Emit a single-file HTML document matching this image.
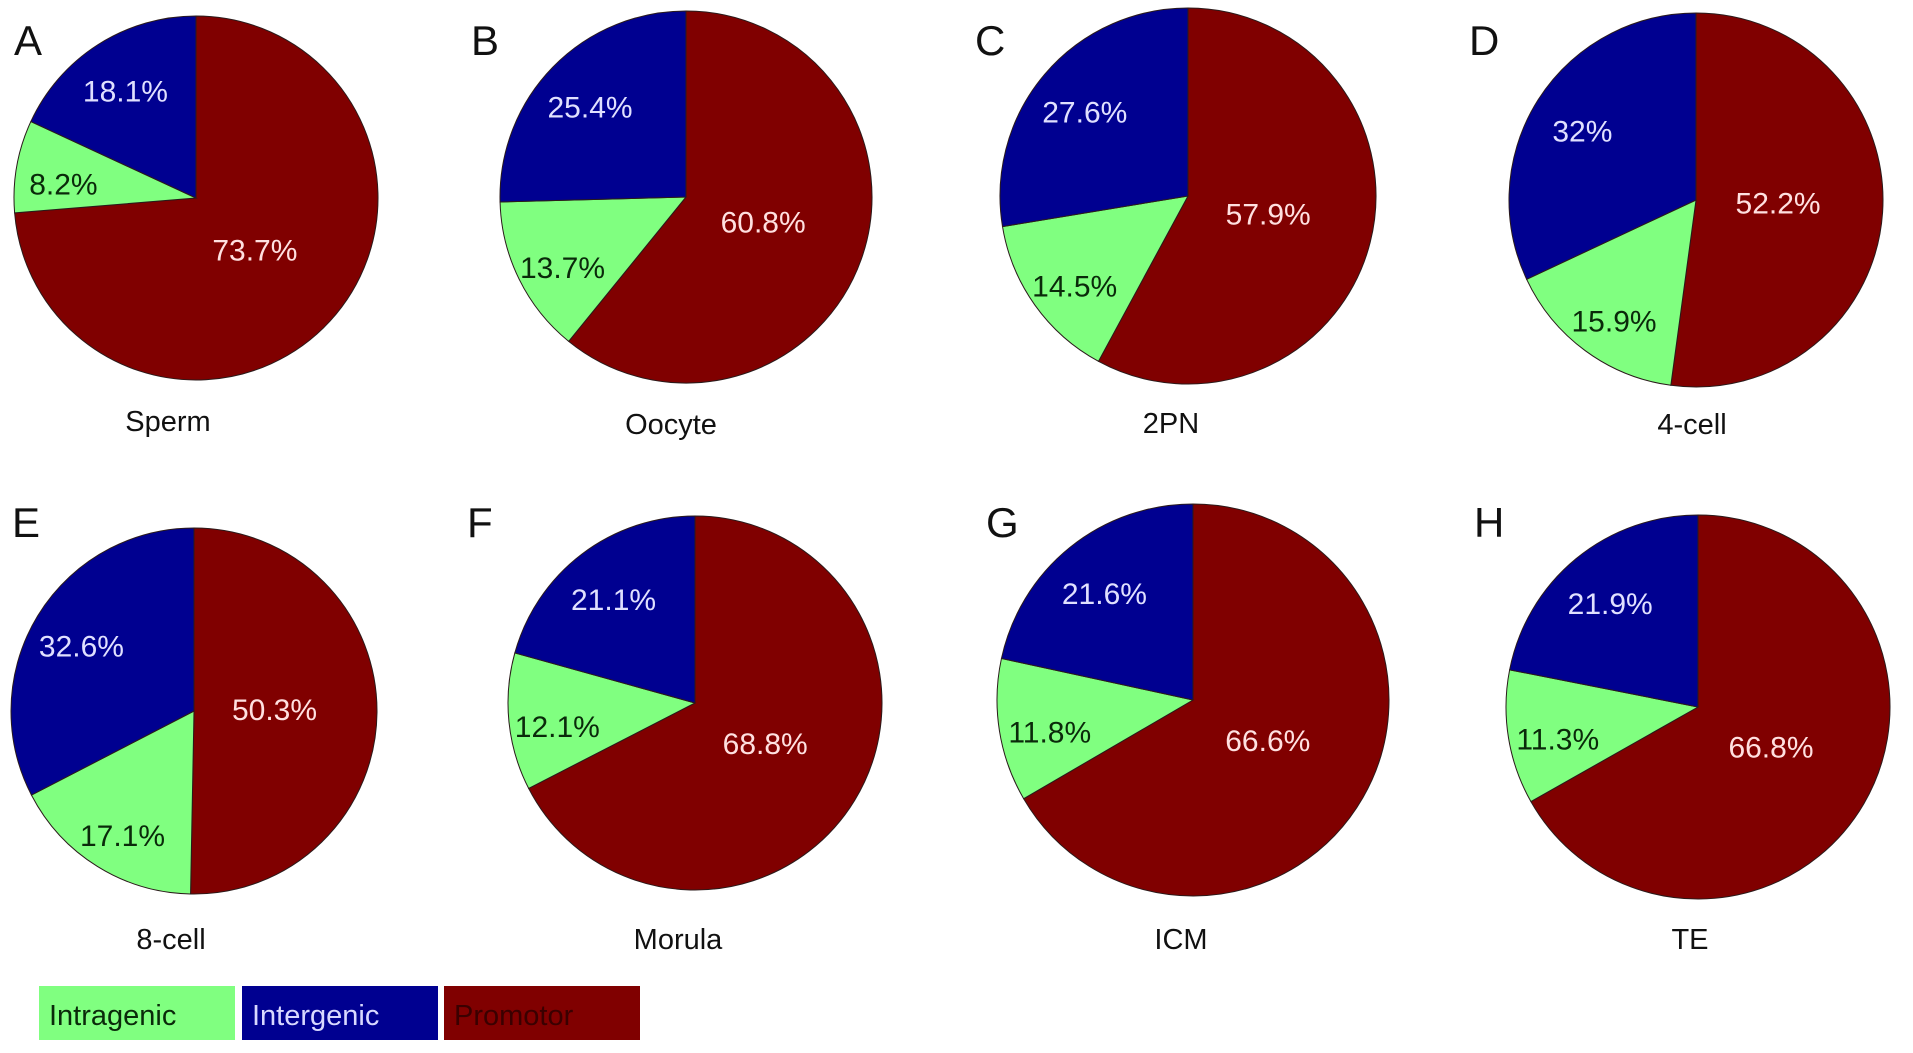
<!DOCTYPE html>
<html><head><meta charset="utf-8"><style>
html,body{margin:0;padding:0;background:#fff;width:1913px;height:1053px;overflow:hidden}
svg{display:block}
text{font-family:"Liberation Sans",Arial,sans-serif}
</style></head><body>
<svg id="chart" width="1913" height="1053" viewBox="0 0 1913 1053"></svg>
<script>
const panelLetters = ["A","B","C","D","E","F","G","H"];
const stageNames = ["Sperm","Oocyte","2PN","4-cell","8-cell","Morula","ICM","TE"];
const promotorValues = [73.7,60.8,57.9,52.2,50.3,68.8,66.6,66.8];
const intragenicValues = [8.2,13.7,14.5,15.9,17.1,12.1,11.8,11.3];
const intergenicValues = [18.1,25.4,27.6,32,32.6,21.1,21.6,21.9];
const categoryNames = ["Promotor","Intragenic","Intergenic"];

const NS = "http://www.w3.org/2000/svg";
const svg = document.getElementById("chart");
const layout = [
  {cx:196,cy:198,r:182,lx:14,ly:55,tx:168,ty:431},
  {cx:686,cy:197,r:186,lx:471,ly:55,tx:671,ty:434},
  {cx:1188,cy:196,r:188,lx:975,ly:55,tx:1171,ty:433},
  {cx:1696,cy:200,r:187,lx:1469,ly:55,tx:1692,ty:434},
  {cx:194,cy:711,r:183,lx:12,ly:537,tx:171,ty:949},
  {cx:695,cy:703,r:187,lx:467,ly:537,tx:678,ty:949},
  {cx:1193,cy:700,r:196,lx:986,ly:537,tx:1181,ty:949},
  {cx:1698,cy:707,r:192,lx:1474,ly:537,tx:1690,ty:949}
];
const fills = {Promotor:"#800000",Intragenic:"#80ff80",Intergenic:"#000090"};
const labelColors = {Promotor:"#ffe0e0",Intragenic:"#0a2a0a",Intergenic:"#e0e0ff"};
const labelRadius = {Promotor:0.44,Intragenic:0.74,Intergenic:0.72};
const labelDy = {Promotor:8,Intragenic:20,Intergenic:14};

function pt(cx,cy,r,frac){const a=frac*2*Math.PI;return [cx+r*Math.sin(a),cy-r*Math.cos(a)];}
function mk(tag,attrs){const e=document.createElementNS(NS,tag);for(const k in attrs)e.setAttribute(k,attrs[k]);return e;}
function fmt(v){return (Math.round(v*10)/10).toString()+"%";}

for(let i=0;i<stageNames.length;i++){
  const L=layout[i];
  const g=mk("g",{});
  
  
  svg.appendChild(g);
  const vals=[promotorValues[i],intragenicValues[i],intergenicValues[i]];
  const total=vals.reduce((a,b)=>a+b,0);
  let start=0;
  for(let j=0;j<3;j++){
    const f=vals[j]/total, end=start+f;
    const p0=pt(L.cx,L.cy,L.r,start), p1=pt(L.cx,L.cy,L.r,end);
    const large=f>0.5?1:0;
    const path=mk("path",{d:`M${L.cx},${L.cy} L${p0[0]},${p0[1]} A${L.r},${L.r} 0 ${large} 1 ${p1[0]},${p1[1]} Z`,fill:fills[categoryNames[j]],stroke:"#2a1a1a","stroke-width":"1"});
    
    
    g.appendChild(path);
    const lp=pt(L.cx,L.cy,L.r*labelRadius[categoryNames[j]],(start+end)/2);
    const t=mk("text",{x:lp[0],y:lp[1]+labelDy[categoryNames[j]],"text-anchor":"middle","font-size":"30",fill:labelColors[categoryNames[j]]});
    t.textContent=fmt(vals[j]);
    
    
    g.appendChild(t);
    start=end;
  }
  const letter=mk("text",{x:L.lx,y:L.ly,"font-size":"42",fill:"#111"});
  letter.textContent=panelLetters[i];
  
  
  svg.appendChild(letter);
  const title=mk("text",{x:L.tx,y:L.ty,"text-anchor":"middle","font-size":"29",fill:"#111"});
  title.textContent=stageNames[i];
  
  
  svg.appendChild(title);
}

const legendItems = ["Intragenic","Intergenic","Promotor"];
const legendX=[39,242,444];
const legendText={Intragenic:"#0a2a0a",Intergenic:"#d8d8ff",Promotor:"#3a0000"};
for(let k=0;k<legendItems.length;k++){
  const name=legendItems[k];
  const r=mk("rect",{x:legendX[k],y:986,width:196,height:54,fill:fills[name]});
  
  
  svg.appendChild(r);
  const t=mk("text",{x:legendX[k]+10,y:1025,"font-size":"29",fill:legendText[name]});
  t.textContent=name;
  
  
  svg.appendChild(t);
}
</script>
</body></html>
